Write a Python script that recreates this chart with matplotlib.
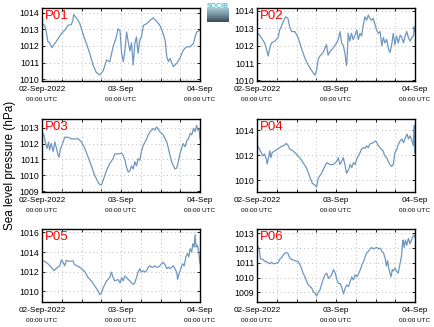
import numpy as np
import matplotlib.pyplot as plt
from matplotlib import transforms
from matplotlib.colors import LinearSegmentedColormap

plt.rcParams['font.family'] = ['Liberation Sans', 'DejaVu Sans']

# hours since 02-Sep-2022 00:00 UTC, values in hPa
p01_hours = [0, 0.8, 1.3, 1.8, 2.3, 3, 3.9, 4.9, 5.9, 6.9, 7.9, 8.9, 9.4, 9.6, 10.5, 11.5, 12.5, 13.5,
             14.5, 15.5, 16.5, 17.6, 18.6, 19.6, 20.6, 21.6, 22.6, 23.1, 23.7, 24.2, 24.7, 25.2, 25.7,
             26.2, 26.7, 27.2, 27.7, 28.2, 28.7, 29.2, 29.7, 30.2, 30.8, 31.8, 32.8, 33.8, 34.8, 35.8,
             36.8, 37.4, 37.9, 38.4, 38.9, 39.9, 40.9, 41.9, 42.9, 43.9, 45, 46, 46.5, 47, 48]
p01_hpa = [1013.35, 1013.25, 1012.85, 1012.25, 1012.2, 1011.9, 1012.15, 1012.45, 1012.75, 1012.95,
           1013.25, 1013.3, 1013.55, 1013.9, 1013.7, 1013.35, 1012.7, 1012.15, 1011.55, 1010.85,
           1010.4, 1010.25, 1010.5, 1011.15, 1011.05, 1011.95, 1012.55, 1013.05, 1012.9, 1011.55,
           1011.05, 1011.75, 1012.85, 1012.25, 1011.7, 1012.2, 1010.85, 1012.15, 1012.55, 1011.55,
           1012.35, 1012.55, 1013.25, 1013.35, 1013.55, 1013.7, 1013.5, 1013.25, 1012.75, 1012.35,
           1011.35, 1011.05, 1011.25, 1010.75, 1010.95, 1011.25, 1011.75, 1011.95, 1011.95, 1012.15,
           1012.55, 1012.85, 1012.95]

p02_hours = [0.3, 0.8, 1.3, 2.3, 2.8, 3.4, 3.9, 4.4, 5.4, 6.4, 6.9, 7.4, 7.9, 8.4, 8.7, 9.4, 9.9, 10.5,
             11.5, 12.5, 13.5, 14.5, 15.5, 16.5, 17.6, 18.1, 18.6, 19.1, 20.1, 21.1, 21.6, 22.1, 23.1,
             24.2, 24.7, 25.2, 25.7, 26.2, 26.7, 27.2, 27.4, 27.7, 28.2, 28.7, 29.2, 29.7, 30.3, 30.8,
             31.3, 31.8, 32.3, 32.8, 33.3, 33.8, 34.3, 34.8, 35.3, 35.8, 36.3, 36.9, 37.4, 37.9, 38.4,
             38.9, 39.4, 39.9, 40.4, 40.9, 41.4, 41.9, 42.4, 42.9, 43.5, 44, 44.5, 45, 45.5, 46, 46.5,
             47, 47.5, 47.8, 48]
p02_hpa = [1012.7, 1012.6, 1012.45, 1012.15, 1011.85, 1011.4, 1011.85, 1012.15, 1012.25, 1012.45,
           1012.9, 1013.1, 1013.35, 1013.55, 1013.65, 1013.55, 1013.1, 1012.8, 1012.8, 1012.45,
           1011.85, 1011.3, 1010.9, 1010.6, 1010.3, 1010.6, 1011.2, 1011.4, 1011.6, 1012.05, 1011.45,
           1011.65, 1011.85, 1012.15, 1012.35, 1012.8, 1012.15, 1012.0, 1011.6, 1010.85, 1011.4,
           1012.7, 1012.25, 1012.7, 1012.35, 1012.55, 1012.9, 1012.35, 1012.7, 1012.55, 1013.2,
           1013.65, 1013.45, 1013.75, 1013.55, 1013.45, 1013.55, 1013.25, 1012.9, 1012.7, 1012.8,
           1012.0, 1012.45, 1012.15, 1012.35, 1011.85, 1011.6, 1012.0, 1012.7, 1012.05, 1012.55,
           1012.15, 1012.6, 1012.45, 1012.15, 1012.55, 1012.8, 1012.45, 1012.25, 1012.45, 1012.55,
           1013.1, 1012.8]

p03_hours = [0, 0.5, 1, 1.5, 2, 2.3, 2.8, 3.4, 3.9, 4.4, 4.9, 5.2, 5.6, 5.9, 6.4, 6.9, 7.9, 8.9, 9.9,
             11, 12, 13, 14, 15, 16, 17.1, 17.6, 18.1, 18.6, 19.6, 20.6, 21.6, 22.1, 23.1, 24.2, 24.7,
             25.2, 25.7, 26.2, 26.7, 27.2, 27.7, 28.2, 28.7, 29.2, 29.7, 30.2, 30.8, 31.3, 31.8, 32.3,
             32.8, 33.3, 33.8, 34.3, 34.8, 35.3, 35.8, 36.8, 37.9, 38.4, 38.9, 39.4, 39.9, 40.4, 40.9,
             41.4, 41.9, 42.4, 42.9, 43.5, 44, 44.5, 45, 45.5, 46, 46.5, 47, 47.3, 47.7, 48]
p03_hpa = [1012.65, 1012.6, 1012.1, 1011.7, 1012.1, 1011.6, 1012.0, 1011.5, 1012.1, 1011.7, 1011.25,
           1011.15, 1011.7, 1011.8, 1012.1, 1012.4, 1012.4, 1012.3, 1012.3, 1012.3, 1012.1, 1011.7,
           1011.15, 1010.6, 1010.0, 1009.55, 1009.4, 1009.4, 1009.7, 1010.3, 1010.75, 1011.05,
           1011.35, 1011.35, 1011.4, 1011.25, 1010.95, 1010.5, 1010.2, 1010.3, 1010.6, 1010.4,
           1010.85, 1010.6, 1011.05, 1010.95, 1011.5, 1011.9, 1012.1, 1012.3, 1012.55, 1012.75,
           1012.85, 1012.95, 1012.85, 1013.05, 1012.9, 1012.75, 1012.55, 1012.1, 1011.7, 1011.25,
           1010.85, 1010.6, 1010.4, 1010.45, 1010.85, 1011.35, 1011.7, 1012.0, 1011.8, 1012.2,
           1012.3, 1012.65, 1012.55, 1012.95, 1012.75, 1013.15, 1012.85, 1012.95, 1012.3]

p04_hours = [0, 0.5, 1.3, 1.8, 2.3, 2.8, 3.1, 3.6, 3.9, 4.2, 4.6, 5.4, 6.3, 7.4, 8.4, 8.9, 9.4, 9.9,
             10.9, 11.9, 13, 14, 15, 16, 16.8, 17.6, 18.1, 18.6, 19.6, 20.6, 21.2, 22.2, 23.2, 24.2,
             24.7, 25.2, 25.7, 26.2, 26.7, 27.2, 27.8, 28.3, 28.8, 29.3, 29.8, 30.3, 30.8, 31.3, 31.8,
             32.3, 32.8, 33.3, 33.8, 34.3, 35.3, 36.1, 36.9, 37.7, 38.3, 38.8, 39.4, 39.9, 40.4, 40.9,
             41.4, 41.9, 42.5, 43, 43.5, 44, 44.5, 45.1, 45.6, 46, 46.5, 47.1, 47.5, 47.8, 47.9, 48]
p04_hpa = [1012.8, 1012.6, 1012.2, 1011.95, 1012.1, 1011.7, 1011.3, 1011.95, 1012.35, 1011.8,
           1012.2, 1012.35, 1012.5, 1012.7, 1012.8, 1012.95, 1012.8, 1012.5, 1012.35, 1012.1,
           1011.8, 1011.4, 1011.0, 1010.3, 1009.75, 1009.6, 1009.45, 1010.15, 1010.55, 1011.1,
           1011.4, 1011.25, 1011.25, 1011.5, 1011.8, 1011.25, 1011.5, 1011.8, 1011.25, 1010.55,
           1010.85, 1011.25, 1011.0, 1011.4, 1011.25, 1011.7, 1011.95, 1012.2, 1012.5, 1012.6,
           1012.55, 1012.75, 1012.6, 1012.9, 1013.0, 1013.15, 1012.75, 1012.5, 1012.35, 1011.95,
           1011.8, 1011.5, 1011.25, 1011.1, 1011.25, 1012.2, 1012.5, 1012.9, 1013.15, 1013.3,
           1013.0, 1013.4, 1013.7, 1013.3, 1013.55, 1013.15, 1012.75, 1014.4, 1012.2, 1013.0]

p05_hours = [0, 0.8, 1.8, 2.8, 3.6, 4.4, 5.4, 5.9, 6.4, 6.9, 7.4, 8.4, 9.4, 9.9, 11, 12, 13, 14, 15,
             16, 17.1, 17.6, 18.1, 18.6, 19.6, 20.6, 21.1, 21.6, 22.1, 23.1, 23.7, 24.2, 24.7, 25.2,
             25.7, 26.2, 26.7, 27.2, 27.7, 28.2, 28.7, 29.2, 29.7, 30.2, 30.8, 31.3, 31.8, 32.3, 32.8,
             33.3, 33.8, 34.3, 34.8, 35.3, 35.8, 36.3, 36.8, 37.4, 37.9, 38.4, 38.9, 39.4, 39.9, 40.4,
             40.9, 41.2, 41.6, 42.2, 42.7, 43.2, 43.7, 44.2, 44.6, 45, 45.5, 45.8, 46.2, 46.5, 46.8,
             47.2, 47.6, 48]
p05_hpa = [1013.15, 1013.05, 1012.8, 1012.45, 1012.1, 1012.35, 1012.6, 1013.2, 1012.95, 1012.6,
           1013.15, 1013.05, 1013.1, 1012.7, 1012.55, 1012.3, 1012.0, 1011.4, 1011.05, 1010.55,
           1010.0, 1009.65, 1009.85, 1010.35, 1011.05, 1011.4, 1011.95, 1011.4, 1011.05, 1011.2,
           1010.85, 1011.4, 1011.05, 1011.55, 1011.4, 1011.2, 1011.05, 1010.85, 1010.7, 1010.85,
           1011.4, 1011.95, 1012.3, 1011.95, 1012.1, 1011.95, 1012.1, 1012.45, 1012.6, 1012.45,
           1012.45, 1012.6, 1012.45, 1012.45, 1012.6, 1012.8, 1012.95, 1012.7, 1012.3, 1012.45,
           1012.3, 1012.45, 1012.6, 1012.3, 1011.95, 1011.2, 1011.75, 1012.3, 1012.8, 1012.6,
           1013.5, 1013.85, 1013.5, 1014.35, 1014.0, 1014.85, 1014.5, 1015.75, 1014.5, 1014.7,
           1014.0, 1012.8]

p06_hours = [0, 0.5, 0.8, 1.1, 1.8, 2.3, 2.8, 3.4, 3.9, 4.4, 4.9, 5.4, 5.9, 6.4, 6.9, 7.4, 7.9, 8.4,
             8.9, 9.4, 9.9, 10.4, 11.5, 12.5, 13, 13.5, 14, 14.6, 15.1, 15.6, 16.1, 16.6, 17.1, 17.6,
             18.1, 18.6, 19.1, 19.7, 20.2, 20.7, 21.2, 21.7, 22.2, 22.7, 23.2, 23.8, 24.3, 24.8, 25.3,
             25.8, 26.3, 26.8, 27.3, 27.8, 28.3, 28.8, 29.3, 29.8, 30.4, 30.9, 31.4, 31.9, 32.4, 32.9,
             33.4, 33.9, 34.3, 34.8, 35.3, 35.8, 36.4, 36.9, 37.4, 37.9, 38.4, 39, 39.3, 39.7, 40,
             40.4, 40.7, 41.1, 41.4, 41.9, 42.4, 42.9, 43.4, 43.9, 44.2, 44.4, 44.7, 45.1, 45.5, 46,
             46.5, 47.1, 47.6, 48]
p06_hpa = [1012.2, 1012.05, 1011.7, 1011.25, 1011.25, 1011.1, 1011.1, 1011.0, 1010.95, 1011.05,
           1010.95, 1010.95, 1011.0, 1011.0, 1011.25, 1011.35, 1011.5, 1011.65, 1011.7, 1011.65,
           1011.35, 1011.25, 1011.15, 1011.1, 1010.9, 1010.65, 1010.3, 1010.05, 1009.75, 1009.5,
           1009.4, 1009.3, 1009.05, 1008.95, 1008.75, 1009.0, 1009.15, 1009.6, 1009.95, 1010.2,
           1010.3, 1009.95, 1010.05, 1010.2, 1010.55, 1010.3, 1009.85, 1009.6, 1009.6, 1009.3,
           1008.9, 1009.3, 1009.5, 1009.4, 1009.75, 1010.05, 1009.85, 1010.2, 1010.05, 1010.3,
           1010.55, 1010.9, 1011.1, 1011.45, 1011.7, 1011.8, 1011.95, 1012.05, 1011.95, 1012.0,
           1012.05, 1011.95, 1012.0, 1011.8, 1011.7, 1011.25, 1010.8, 1011.15, 1010.65, 1010.3,
           1010.05, 1010.55, 1010.45, 1010.65, 1010.45, 1010.3, 1010.9, 1011.45, 1012.3, 1012.55,
           1012.05, 1012.55, 1012.2, 1012.65, 1012.3, 1012.65, 1012.9, 1012.75]

names = ['P01', 'P02', 'P03', 'P04', 'P05', 'P06']
hours = [p01_hours, p02_hours, p03_hours, p04_hours, p05_hours, p06_hours]
hpa = [p01_hpa, p02_hpa, p03_hpa, p04_hpa, p05_hpa, p06_hpa]
ylims = [(1009.88, 1014.3), (1009.97, 1014.15), (1008.95, 1013.55),
         (1009.05, 1014.9), (1008.9, 1016.35), (1008.35, 1013.3)]
ystep = [1, 1, 1, 2, 2, 1]
date_labels = ['02-Sep-2022', '03-Sep', '04-Sep']
date_hours = [0, 24, 48]

fig = plt.figure(figsize=(4.34, 3.27), dpi=100)

lefts = [42, 257]
tops = [8, 119, 229]
for i in range(6):
    row, col = i // 2, i % 2
    x0 = lefts[col] / 434
    y0 = 1 - (tops[row] + 73) / 327
    ax = fig.add_axes([x0, y0, 158 / 434, 73 / 327])
    ax.plot(hours[i], hpa[i], color='#6d97c1', lw=0.9)
    ax.set_xlim(0, 48)
    ax.set_ylim(*ylims[i])
    lo = int(np.ceil(ylims[i][0]))
    if ystep[i] == 2 and lo % 2:
        lo += 1
    ax.set_yticks(np.arange(lo, ylims[i][1], ystep[i]))
    ax.set_xticks(np.arange(0, 49, 6))
    ax.set_xticklabels([])
    ax.grid(True, color='#bbbbbb', ls=(0, (1, 3)), lw=0.7)
    ax.tick_params(direction='in', length=2, width=0.6, labelsize=6.3, pad=2,
                   top=True, right=True)
    for s in ax.spines.values():
        s.set_linewidth(1.0)
    ax.text(0.02, 0.97, names[i], transform=ax.transAxes, color='red',
            fontsize=9.5, va='top', ha='left')
    tr = transforms.blended_transform_factory(ax.transData, ax.transAxes)
    for h, lab in zip(date_hours, date_labels):
        ax.text(h, -0.075, lab, transform=tr, ha='center', va='top', fontsize=5.9)
        ax.text(h, -0.215, '00:00 UTC', transform=tr, ha='center', va='top', fontsize=4.6)

fig.text(10 / 434, 1 - 165 / 327, 'Sea level pressure (hPa)', rotation=90,
         ha='center', va='center', fontsize=8.5)

# small logo
logo_cmap = LinearSegmentedColormap.from_list('logo', ['#3a4954', '#6f8f9c', '#a9c6cf'])
lax = fig.add_axes([207 / 434, 1 - 22 / 327, 22 / 434, 19 / 327])
grad = np.linspace(0, 1, 50).reshape(-1, 1)
lax.imshow(grad, aspect='auto', cmap=logo_cmap, extent=(0, 1, 0, 0.7), origin='lower')
lax.text(0.5, 1.0, 'SOCIB', color='#39c3dd', fontsize=5, ha='center', va='top',
         fontweight='bold')
lax.set_xlim(0, 1)
lax.set_ylim(0, 1)
lax.axis('off')

fig.savefig('out.png', dpi=100)
